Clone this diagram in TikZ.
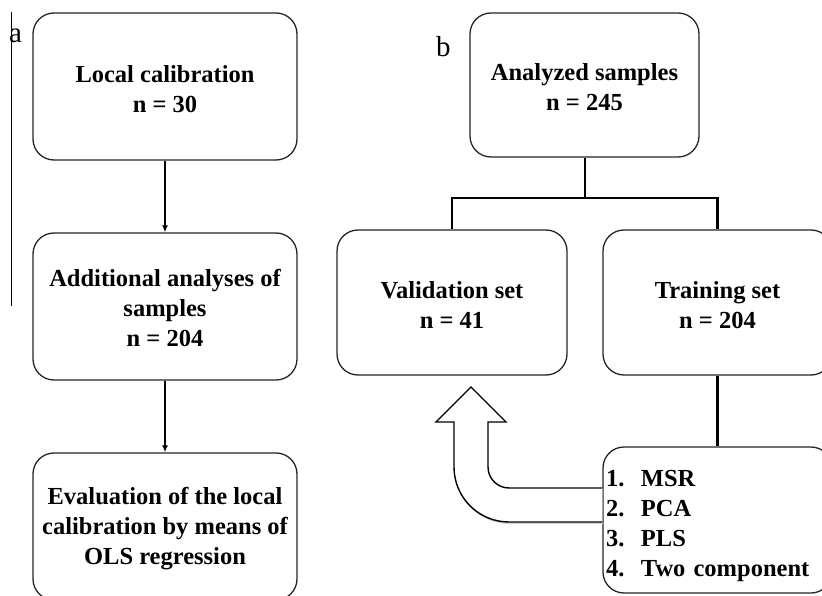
\documentclass[tikz,border=0pt]{standalone}
\usepackage{fontspec}
\setmainfont{Liberation Serif}
\usetikzlibrary{arrows.meta}
\tikzset{
  flowbox/.style={draw=black!85, line width=1.3pt, rounded corners=21pt, fill=white,
    align=center, inner sep=0pt, font=\fontsize{24.5}{30}\selectfont\bfseries},
  flowarrow/.style={line width=1.7pt, -{Latex[length=7pt,width=6pt]}},
  treeline/.style={line width=2.6pt},
  panellabel/.style={font=\fontsize{29}{30}\selectfont, inner sep=0pt, anchor=base west},
  bigarrow/.style={draw=black, line width=1.4pt, fill=white, line join=miter}
}
\begin{document}
\begin{tikzpicture}[x=1pt,y=-1pt]
\clip (0,0) rectangle (822,596);
\fill[white] (0,0) rectangle (822,596);
% panel a
\coordinate (lt) at (11,12);
\coordinate (lb) at (11,306);
\draw[line width=1pt] (lt) -- (lb);
\node[panellabel] (la) at (9,43) {a};
\node[flowbox, minimum width=264pt, minimum height=147pt] (loc) at (165,86.5)
  {\rule{0pt}{22pt}Local calibration\\n = 30};
\node[flowbox, minimum width=264pt, minimum height=147pt] (add) at (165,306.5)
  {\rule{0pt}{21pt}Additional analyses of\\samples\\n = 204};
\node[flowbox, minimum width=264pt, minimum height=147pt] (eva) at (165,526.5)
  {\rule{0pt}{21pt}Evaluation of the local\\calibration by means of\\OLS regression};
\draw[flowarrow] (loc) -- (add);
\draw[flowarrow] (add) -- (eva);
% panel b
\node[panellabel] (lbb) at (436,57) {b};
\node[flowbox, minimum width=229pt, minimum height=144pt] (ana) at (584.5,85)
  {\rule{0pt}{22pt}Analyzed samples\\n = 245};
\node[flowbox, minimum width=230pt, minimum height=145pt] (val) at (452,302.5)
  {\rule{0pt}{22pt}Validation set\\n = 41};
\node[flowbox, minimum width=229pt, minimum height=145pt] (tra) at (717.5,302.5)
  {\rule{0pt}{22pt}Training set\\n = 204};
\node[flowbox, minimum width=229pt, minimum height=146pt, align=left, text width=223pt] (msr) at (717.5,520)
  {\rule{0pt}{29pt}\makebox[35pt][l]{1.}MSR\\\makebox[35pt][l]{2.}PCA\\\makebox[35pt][l]{3.}PLS\\\makebox[35pt][l]{4.}Two component};
\coordinate (jn) at (585,198);
\draw[treeline] (ana.south -| jn) -- (jn);
\draw[treeline] (jn) -| (val.north);
\draw[treeline] (jn) -| (tra.north);
\draw[treeline] (tra) -- (msr);
% big curved arrow from the methods box back to the validation set
\draw[black!18, line width=1.4pt, shift={(1.2,1.4)}]
  (602,522) -- (509,522) .. controls (478.6,522) and (454,497.4) .. (454,467) -- (454,422);
\draw[bigarrow] (msr.west |- 0,522) -- (509,522) .. controls (478.6,522) and (454,497.4) .. (454,467)
  -- (454,422) -- (436,422) -- (471,387) -- (506,422) -- (488,422) -- (488,467)
  .. controls (488,478.6) and (497.4,488) .. (509,488) -- (msr.west |- 0,488);
\end{tikzpicture}
\end{document}
